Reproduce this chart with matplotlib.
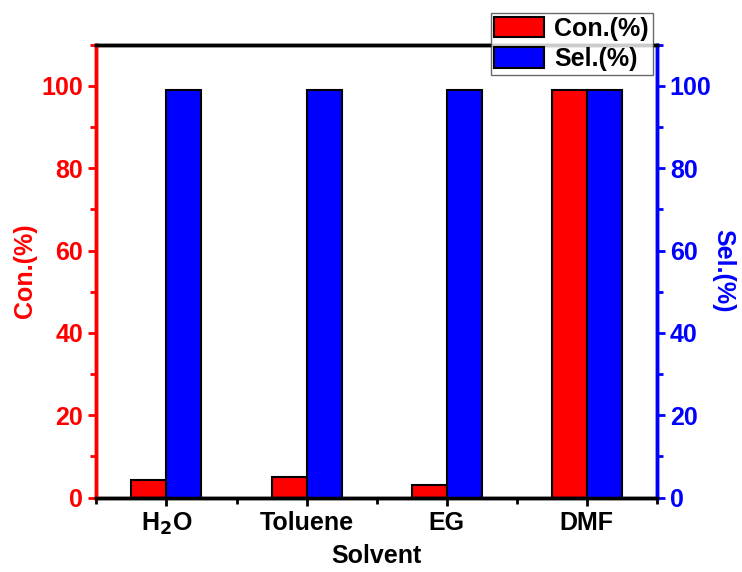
import numpy as np
import matplotlib.pyplot as plt
from matplotlib.ticker import MultipleLocator

plt.rcParams['font.family'] = ['Liberation Sans', 'DejaVu Sans']
plt.rcParams['font.weight'] = 'bold'

solvents = ['H$_2$O', 'Toluene', 'EG', 'DMF']
conversion = [4.4, 4.9, 3.0, 99]
selectivity = [99, 99, 99, 99]

x = np.arange(len(solvents))
w = 0.25

fig, ax = plt.subplots(figsize=(7.42, 5.72), dpi=100)
fig.subplots_adjust(left=0.13, right=0.885, top=0.922, bottom=0.13)
ax2 = ax.twinx()

ax.bar(x - w / 2, conversion, w, color='#ff0000', edgecolor='black', linewidth=1.5, label='Con.(%)')
ax2.bar(x + w / 2, selectivity, w, color='#0000ff', edgecolor='black', linewidth=1.5, label='Sel.(%)')

ax.set_xlim(-0.5, 3.5)
ax.set_ylim(0, 110)
ax2.set_ylim(0, 110)
ax.set_xticks(x)
ax.set_xticklabels(solvents)
ax.xaxis.set_minor_locator(MultipleLocator(0.5))
for a in (ax, ax2):
    a.yaxis.set_major_locator(MultipleLocator(20))
    a.yaxis.set_minor_locator(MultipleLocator(10))

fs = 18
ax.tick_params(axis='x', which='both', direction='out', width=2, labelsize=fs, colors='black')
ax.tick_params(axis='x', which='major', length=6)
ax.tick_params(axis='x', which='minor', length=4)
ax.tick_params(axis='y', which='both', direction='out', width=2, colors='red', labelsize=fs)
ax.tick_params(axis='y', which='major', length=6)
ax.tick_params(axis='y', which='minor', length=4)
ax2.tick_params(axis='y', which='both', direction='out', width=2, colors='blue', labelsize=fs)
ax2.tick_params(axis='y', which='major', length=6)
ax2.tick_params(axis='y', which='minor', length=4)

for a in (ax, ax2):
    for s in a.spines.values():
        s.set_linewidth(2.5)
    a.spines['left'].set_color('red')
    a.spines['right'].set_color('blue')
    a.spines['top'].set_color('black')
    a.spines['bottom'].set_color('black')

ax.set_xlabel('Solvent', fontsize=fs, fontweight='bold', labelpad=5)
ax.set_ylabel('Con.(%)', fontsize=fs, fontweight='bold', color='red', labelpad=3)
ax2.set_ylabel('Sel.(%)', fontsize=fs, fontweight='bold', color='blue', rotation=270, labelpad=17)

h1, l1 = ax.get_legend_handles_labels()
h2, l2 = ax2.get_legend_handles_labels()
leg = ax2.legend(h1 + h2, l1 + l2, loc='upper right', bbox_to_anchor=(0.993, 1.07),
                 fontsize=fs, frameon=True, fancybox=False, edgecolor='#444444',
                 handlelength=2.0, handleheight=0.9, borderpad=0.15, labelspacing=0.25,
                 handletextpad=0.4, borderaxespad=0)
leg.get_frame().set_linewidth(1.0)

fig.savefig('out.png', dpi=100)
